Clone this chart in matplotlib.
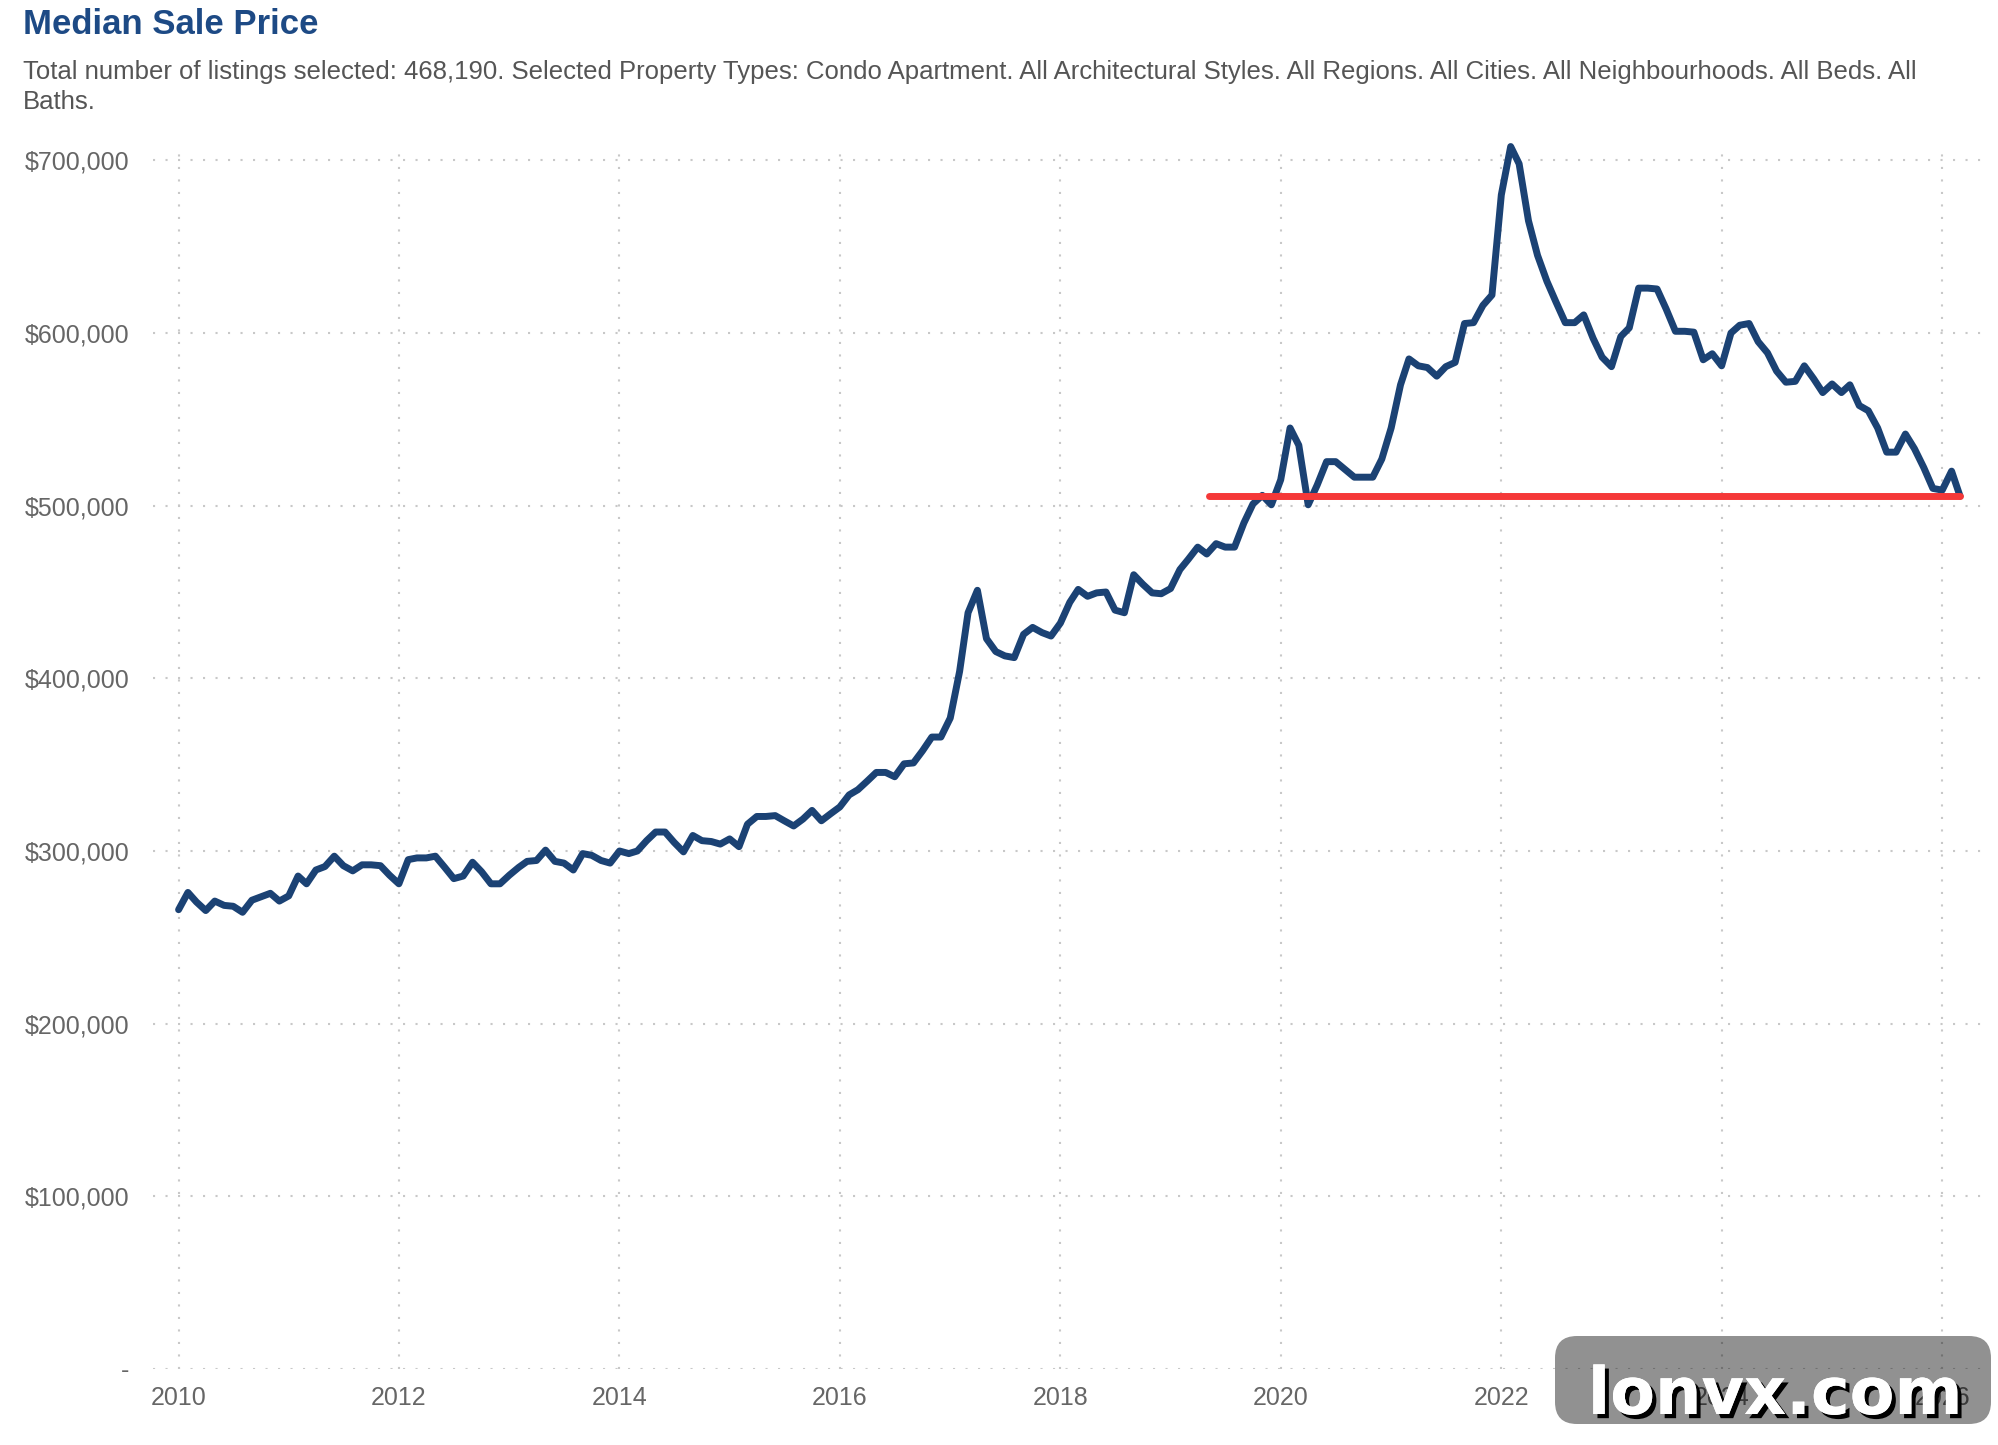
import numpy as np
import pandas as pd
import matplotlib
matplotlib.use("Agg")
import matplotlib.pyplot as plt
from matplotlib.patches import FancyBboxPatch
from matplotlib.transforms import IdentityTransform
import matplotlib.patheffects as pe

plt.rcParams['font.family'] = ['Liberation Sans', 'DejaVu Sans']

# monthly median sale price, in thousands of dollars (Jan 2010 .. Mar 2026)
p2010 = [266, 276, 270.5, 265.5, 271, 268.5, 268, 264.5, 271.5, 273.5, 275.5, 271]
p2011 = [274, 285.5, 281, 289, 291, 297, 291.5, 288.5, 292, 292, 291.5, 286]
p2012 = [281, 295, 296, 296, 297, 290.5, 284, 285.5, 293.5, 288, 281, 281]
p2013 = [286, 290.5, 294, 294.5, 300.5, 294, 293, 289, 298.5, 297.5, 294.5, 293]
p2014 = [300, 298.5, 300, 306, 311, 311, 305, 299.5, 309, 306, 305.5, 304]
p2015 = [307, 302.5, 315.5, 320, 320, 320.5, 317.5, 314.5, 318.5, 323.5, 317.5, 321.5]
p2016 = [325.5, 332.5, 335.5, 340.5, 345.5, 345.5, 343, 350.5, 351, 358, 366, 366]
p2017 = [377, 404, 438, 451, 423, 415.5, 413, 412, 425.5, 429.5, 426.5, 424.5]
p2018 = [432, 444, 451.5, 447.5, 449.5, 450, 439.5, 438, 460, 454.5, 449.5, 449]
p2019 = [452, 463, 469, 476, 472, 478, 476, 476, 490, 501, 506, 500.5]
p2020 = [515, 545, 535, 500.5, 512, 525.5, 525.5, 521, 516.5, 516.5, 516.5, 527]
p2021 = [545, 570, 585, 581, 580, 575, 580.5, 583, 605.5, 606, 616, 622]
p2022 = [680, 708, 698, 665, 645, 630, 618, 606, 606, 610.5, 597, 586]
p2023 = [580.5, 598, 603, 626, 626, 625.5, 614, 601, 601, 600.5, 584.5, 588]
p2024 = [581, 600, 604.5, 605.5, 595, 588.5, 578, 571.5, 572, 581, 573.5, 565.5]
p2025 = [570.5, 565.5, 570, 558, 555, 545, 531, 531, 541.5, 533, 522, 510]
p2026 = [509, 520, 505.5]

prices = np.array(p2010 + p2011 + p2012 + p2013 + p2014 + p2015 + p2016 + p2017
                  + p2018 + p2019 + p2020 + p2021 + p2022 + p2023 + p2024
                  + p2025 + p2026) * 1000
dates = pd.date_range("2010-01-01", periods=len(prices), freq="MS")

# reference line: latest price, drawn from May 2019 to the last month
ref_start = pd.Timestamp("2019-05-10")
ref_level = prices[-1]

y_ticks = [0, 100000, 200000, 300000, 400000, 500000, 600000, 700000]
y_labels = ["-"] + ["${:,}".format(v) for v in y_ticks[1:]]
x_ticks = pd.to_datetime(["2010-01-01", "2012-01-01", "2014-01-01", "2016-01-01",
                          "2018-01-01", "2020-01-01", "2022-01-01", "2024-01-01",
                          "2026-01-01"])

fig = plt.figure(figsize=(19.99, 14.45), dpi=100)
ax = fig.add_axes([0.0765, 0.0526, 0.9185, 0.8436])

ax.plot(dates, prices, color="#1b4274", lw=5.0, solid_joinstyle="round",
        solid_capstyle="round", clip_on=False, zorder=3)
ax.plot([ref_start, dates[-1]], [ref_level, ref_level], color="#f53838", lw=5.0,
        solid_capstyle="round", zorder=4)

ax.set_ylim(0, 706000)
ax.set_xlim(pd.Timestamp("2009-10-08"), pd.Timestamp("2026-06-05"))
ax.set_yticks(y_ticks)
ax.set_yticklabels(y_labels)
ax.set_xticks(x_ticks)
ax.set_xticklabels([d.year for d in x_ticks])

for s in ax.spines.values():
    s.set_visible(False)
ax.tick_params(axis="both", length=0, labelsize=18, labelcolor="#666666")
ax.tick_params(axis="y", pad=17)
ax.tick_params(axis="x", pad=12)
ax.grid(True, color="#c8c8c8", linestyle=(0, (1, 5)), lw=1.5)
ax.set_axisbelow(True)

fig.text(0.0115, 1 - 25 / 1445, "Median Sale Price", fontsize=25, fontweight="bold",
         color="#1d4a85", va="center", ha="left")
fig.text(0.0115, 1 - 60 / 1445,
         "Total number of listings selected: 468,190. Selected Property Types: Condo Apartment. "
         "All Architectural Styles. All Regions. All Cities. All Neighbourhoods. All Beds. All\nBaths.",
         fontsize=18.5, color="#555555", va="top", ha="left", linespacing=1.3,
         transform=fig.transFigure)

# watermark badge in the lower right corner (pixel coordinates)
badge = FancyBboxPatch((1555, 21), 436, 88, boxstyle="round,pad=0,rounding_size=22",
                       transform=IdentityTransform(), facecolor="black", alpha=0.43,
                       edgecolor="none", zorder=10)
fig.patches.append(badge)
fig.text(1775 / 1999, 49 / 1445, "lonvx.com", fontsize=47, fontweight="bold",
         family="DejaVu Sans", color="white", ha="center", va="center", zorder=11,
         path_effects=[pe.withSimplePatchShadow(offset=(3, -3), shadow_rgbFace="black",
                                                alpha=1.0), pe.Normal()])

fig.savefig("out.png", dpi=100)
